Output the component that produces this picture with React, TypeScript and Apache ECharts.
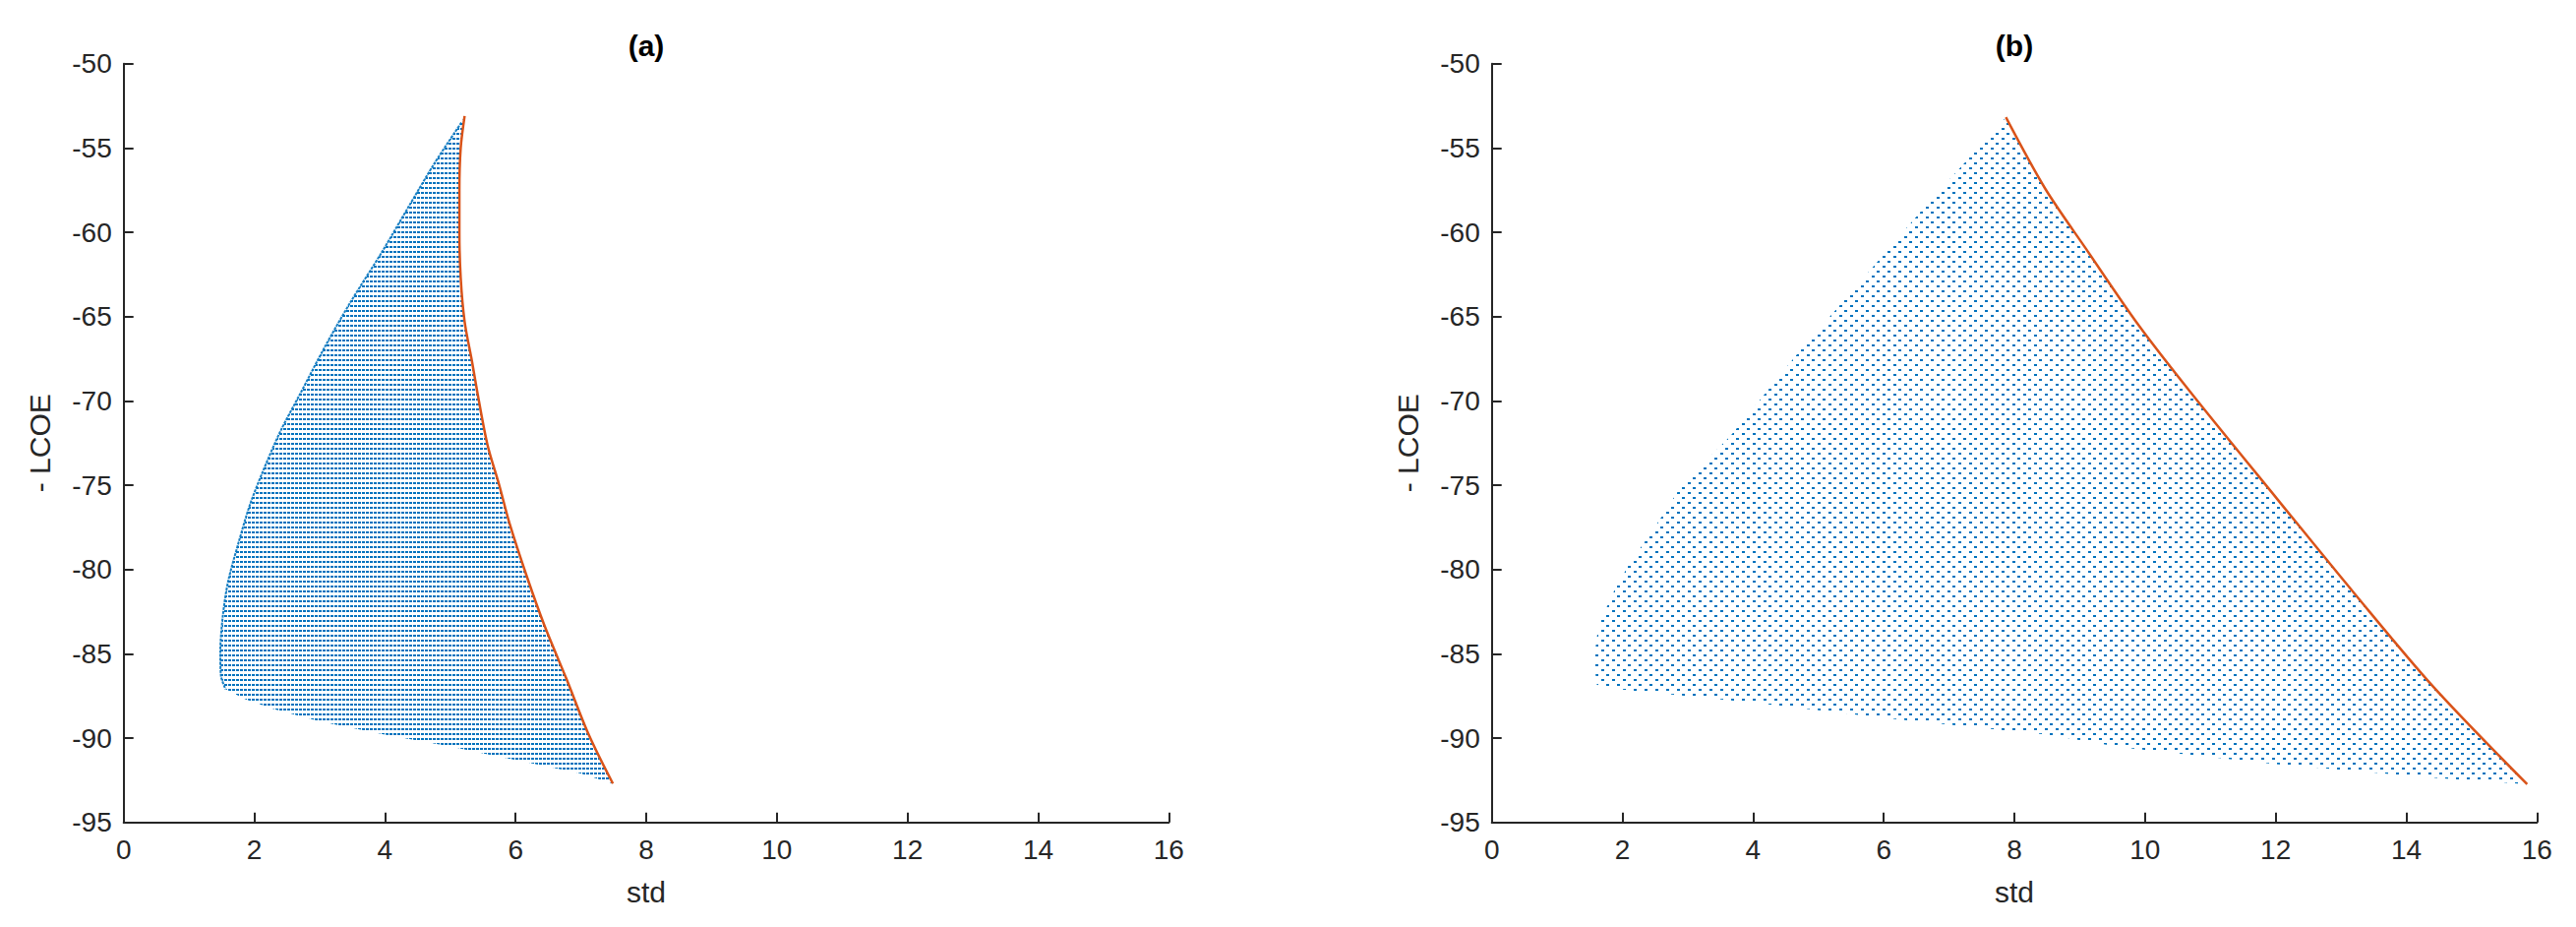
import React, { useEffect, useRef } from "react";
import * as echarts from "echarts";

// ---- data (std, -LCOE) ----
const frontierA: [number, number][] = [
  [5.22, -53.1], [5.16, -55.0], [5.14, -57.5], [5.14, -60.0], [5.16, -62.7],
  [5.22, -65.3], [5.33, -67.6], [5.42, -69.6], [5.57, -72.6], [5.75, -75.0],
  [5.91, -77.3], [6.18, -80.5], [6.44, -83.3], [6.78, -86.5], [7.12, -89.8], [7.49, -92.7],
];
const leftEdgeA: [number, number][] = [
  [5.17, -53.5], [4.76, -55.9], [4.36, -58.5], [3.95, -61.2], [3.48, -64.1],
  [3.08, -66.8], [2.70, -69.6], [2.40, -71.8], [2.13, -74.2], [1.93, -76.2],
  [1.76, -78.4], [1.60, -80.7], [1.52, -82.7], [1.48, -84.9], [1.49, -86.3], [1.56, -87.1],
];
const bottomEdgeA: [number, number][] = [
  [1.56, -87.1], [1.87, -87.7], [2.27, -88.25], [3.0, -89.0], [4.0, -89.8],
  [5.0, -90.5], [6.0, -91.3], [7.0, -92.1], [7.45, -92.65],
];

const frontierB: [number, number][] = [
  [7.87, -53.18], [8.47, -57.4], [9.1, -61.0], [9.9, -65.5], [10.72, -69.6],
  [12.03, -75.85], [13.22, -81.49], [14.41, -86.94], [15.85, -92.74],
];
const leftEdgeB: [number, number][] = [
  [7.82, -53.4], [6.67, -58.3], [5.67, -62.8], [4.66, -67.3], [3.65, -72.1],
  [2.91, -75.0], [2.51, -77.4], [2.10, -79.7], [1.84, -81.5], [1.63, -83.4],
  [1.57, -85.2], [1.60, -86.8], [1.70, -87.0],
];
const bottomEdgeB: [number, number][] = [
  [1.70, -87.0], [4.0, -87.9], [6.0, -88.8], [8.5, -89.8], [9.65, -90.55],
  [12.0, -91.55], [14.4, -92.35], [15.8, -92.72],
];

const panelTitles = ["(a)", "(b)"];
const xName = "std";
const yName = "- LCOE";

const FONT = '"Liberation Sans", Arial, Helvetica, sans-serif';
const TEXT = "#262626";
const BLUE = "#0072BD";
const RED = "#D95319";

const GRIDS = [
  { left: 125.7, top: 64.7, width: 1062.6, height: 771 },
  { left: 1516.7, top: 64.7, width: 1062.6, height: 771 },
];

function makePattern(w: number, h: number, dots: number[][]) {
  const c = document.createElement("canvas");
  c.width = w;
  c.height = h;
  const ctx = c.getContext("2d")!;
  ctx.fillStyle = BLUE;
  dots.forEach(([x, y, dw, dh]) => ctx.fillRect(x, y, dw, dh));
  return { image: c, repeat: "repeat", imageWidth: w, imageHeight: h } as any;
}

function polygonOf(left: [number, number][], bottom: [number, number][], front: [number, number][]) {
  return [...left, ...bottom.slice(1), ...front.slice().reverse()];
}

export default function App() {
  const ref = useRef<HTMLDivElement>(null);
  useEffect(() => {
    if (!ref.current) return;
    const chart = echarts.init(ref.current, undefined, { renderer: "svg" });
    const patA = makePattern(4, 5, [[0, 0, 3, 2]]);
    const patB = makePattern(11, 10, [[0, 0, 3, 2], [5, 5, 3, 2]]);
    const polys = [
      polygonOf(leftEdgeA, bottomEdgeA, frontierA),
      polygonOf(leftEdgeB, bottomEdgeB, frontierB),
    ];
    const pats = [patA, patB];
    const fronts = [frontierA, frontierB];

    const xAxis = GRIDS.map((_, i) => ({
      type: "value",
      gridIndex: i,
      min: 0,
      max: 16,
      interval: 2,
      name: xName,
      nameLocation: "middle",
      nameGap: 56,
      nameTextStyle: { fontSize: 30, color: TEXT, fontFamily: FONT },
      axisLine: { show: true, onZero: false, lineStyle: { color: TEXT, width: 2 } },
      axisTick: { show: true, inside: true, length: 10, lineStyle: { color: TEXT, width: 2 } },
      axisLabel: { fontSize: 28, color: TEXT, margin: 14, fontFamily: FONT },
      splitLine: { show: false },
    }));
    const yAxis = GRIDS.map((_, i) => ({
      type: "value",
      gridIndex: i,
      min: -95,
      max: -50,
      interval: 5,
      name: yName,
      nameLocation: "middle",
      nameGap: 70,
      nameRotate: 90,
      nameTextStyle: { fontSize: 30, color: TEXT, fontFamily: FONT },
      axisLine: { show: true, onZero: false, lineStyle: { color: TEXT, width: 2 } },
      axisTick: { show: true, inside: true, length: 10, lineStyle: { color: TEXT, width: 2 } },
      axisLabel: { fontSize: 28, color: TEXT, margin: 12, fontFamily: FONT },
      splitLine: { show: false },
    }));

    const series: any[] = [];
    GRIDS.forEach((_, i) => {
      const poly = polys[i];
      series.push({
        type: "custom",
        xAxisIndex: i,
        yAxisIndex: i,
        data: poly,
        encode: { x: 0, y: 1 },
        silent: true,
        renderItem: (params: any, api: any) => {
          if (params.dataIndex !== 0) return null;
          const pts = poly.map((p) => api.coord(p));
          return {
            type: "polygon",
            shape: { points: pts },
            style: { fill: pats[i], stroke: null },
          };
        },
      });
      if (i === 0) {
        series.push({
          type: "line",
          xAxisIndex: i,
          yAxisIndex: i,
          data: leftEdgeA,
          showSymbol: false,
          smooth: 0.3,
          silent: true,
          lineStyle: { color: BLUE, width: 2, type: [3, 1], opacity: 0.9 },
        });
      }
      series.push({
        type: "line",
        xAxisIndex: i,
        yAxisIndex: i,
        data: fronts[i],
        showSymbol: false,
        smooth: 0.3,
        silent: true,
        lineStyle: { color: RED, width: 2.5 },
      });
    });

    chart.setOption({
      animation: false,
      backgroundColor: "#ffffff",
      grid: GRIDS.map((g) => ({ ...g, containLabel: false })),
      xAxis,
      yAxis,
      series,
      graphic: GRIDS.map((g, i) => ({
        type: "text",
        x: g.left + g.width / 2,
        y: 46,
        style: {
          text: panelTitles[i],
          font: `bold 30px ${FONT}`,
          fill: "#000",
          align: "center",
          verticalAlign: "middle",
        },
      })),
    });
    return () => chart.dispose();
  }, []);
  return (
    <div
      ref={ref}
      style={{ position: "absolute", left: 0, top: 0, width: 2619, height: 942, background: "#fff" }}
    />
  );
}
